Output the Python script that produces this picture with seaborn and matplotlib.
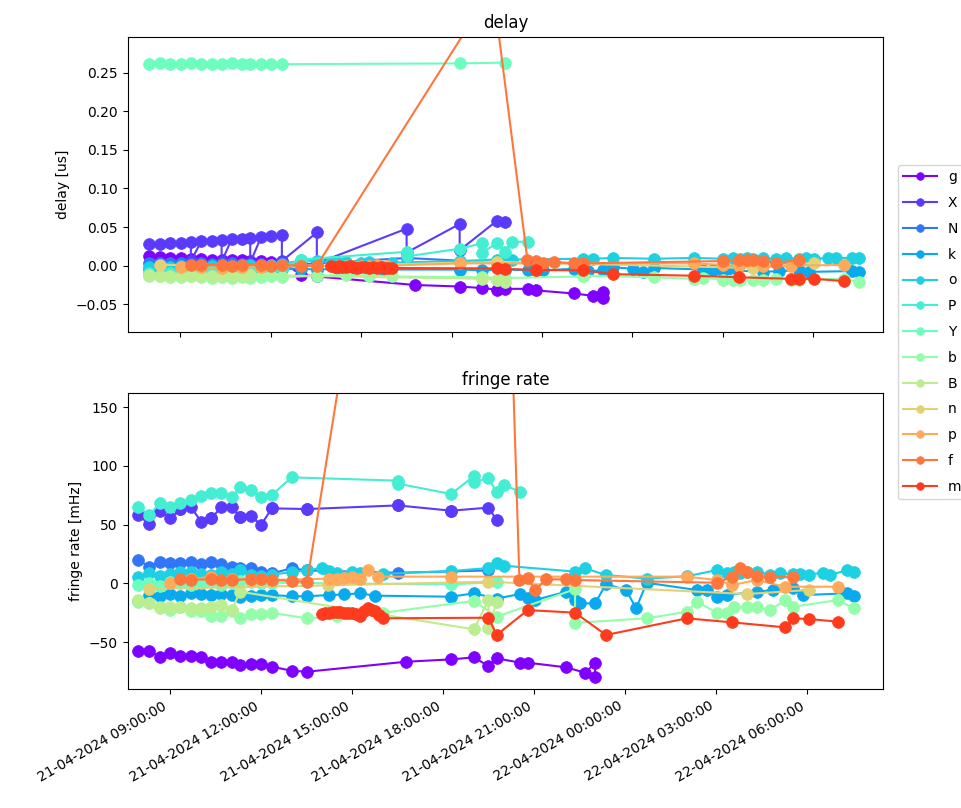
import numpy as np
import pandas as pd
import matplotlib
matplotlib.use("Agg")
import matplotlib.pyplot as plt
import matplotlib.dates as mdates
import seaborn as sns

# station order as in the legend
stations = ["g", "X", "N", "k", "o", "P", "Y", "b", "B", "n", "p", "f", "m"]

# scan times in hours since 21-04-2024 00:00
hours = {
    "g": [7.97, 8.33, 8.67, 9.02, 9.35, 9.70, 10.04, 10.37, 10.70, 11.05, 11.32, 11.68, 12.01, 12.37,
          13.02, 13.53, 16.79, 18.27, 19.02, 19.50, 19.77, 20.54, 20.79, 22.06, 22.69, 23.01, 23.01],
    "X": [7.97, 8.33, 8.67, 9.02, 9.35, 9.35, 9.70, 10.04, 10.37, 10.37, 10.70, 11.05, 11.32, 11.32,
          11.68, 12.01, 12.37, 12.37, 13.53, 13.53, 16.51, 16.51, 18.27, 18.27, 19.50, 19.77],
    "N": [7.97, 8.33, 8.67, 9.02, 9.35, 9.70, 10.04, 10.37, 10.70, 11.05, 11.32, 11.68, 12.01, 12.37,
          13.02, 13.53, 16.51, 19.50],
    "k": [7.97, 8.33, 8.67, 9.02, 9.35, 9.70, 10.04, 10.37, 10.70, 11.05, 11.32, 11.68, 12.01, 12.37,
          13.02, 13.53, 14.25, 14.73, 15.27, 15.77, 18.27, 19.02, 19.77, 20.54, 20.79, 21.04, 22.06,
          22.35, 22.52, 23.01, 23.37, 24.03, 24.36, 24.71, 26.36, 26.69, 27.02, 27.35, 28.33, 28.88,
          29.54, 29.87, 31.30, 31.52],
    "o": [7.97, 8.33, 8.67, 9.02, 9.35, 9.70, 10.04, 10.37, 10.70, 11.05, 11.32, 11.68, 12.01, 12.37,
          13.02, 13.53, 14.01, 14.25, 14.51, 15.00, 15.27, 16.04, 18.27, 19.50, 19.77, 20.01, 22.35,
          22.69, 23.37, 24.71, 26.03, 27.02, 27.35, 27.57, 27.79, 28.00, 28.33, 28.77, 29.10, 29.54,
          29.76, 30.04, 30.50, 30.75, 31.30, 31.52],
    "P": [7.97, 8.33, 8.67, 9.02, 9.35, 9.70, 10.04, 10.37, 10.70, 11.05, 11.32, 11.68, 12.01, 12.37,
          13.02, 16.51, 16.51, 18.27, 19.02, 19.02, 19.50, 19.77, 20.01, 20.54],
    "Y": [7.97, 8.33, 8.67, 9.02, 9.35, 9.70, 10.04, 10.37, 10.70, 11.05, 11.32, 11.68, 12.01, 12.37,
          18.27, 19.77],
    "b": [7.97, 8.33, 8.67, 9.02, 9.35, 9.70, 10.04, 10.37, 10.70, 11.05, 11.32, 11.68, 12.01, 12.37,
          13.53, 14.51, 15.27, 16.04, 19.02, 19.77, 22.35, 22.35, 24.71, 26.03, 26.36, 27.02, 27.35,
          27.57, 28.00, 28.33, 28.77, 29.27, 29.54, 31.02, 31.52],
    "B": [7.97, 8.33, 8.67, 9.02, 9.35, 9.70, 10.04, 10.37, 10.70, 11.05, 11.32, 19.02, 19.50, 19.50,
          19.77],
    "n": [8.33, 14.23, 19.50, 28.00, 30.04],
    "p": [9.02, 9.70, 10.37, 11.05, 11.68, 14.25, 14.51, 14.73, 15.00, 15.27, 15.52, 15.87, 18.27,
          26.03, 27.02, 27.53, 28.33, 29.27, 31.02],
    "f": [9.35, 9.70, 10.37, 10.70, 11.05, 11.68, 12.01, 12.37, 13.02, 13.53, 19.37, 20.52, 20.79,
          21.04, 21.39, 22.06, 22.35, 27.02, 27.53, 27.79, 28.00, 28.33, 28.77, 29.54],
    "m": [14.01, 14.13, 14.25, 14.38, 14.51, 14.62, 14.73, 14.87, 15.00, 15.13, 15.27, 15.40, 15.53,
          15.65, 15.77, 15.90, 16.04, 19.50, 19.77, 20.79, 22.35, 23.37, 26.03, 27.53, 29.27, 29.54,
          30.04, 31.02],
}

# delay [us]
delay = {
    "g": [0.012, 0.011, 0.010, 0.010, 0.009, 0.009, 0.008, 0.008, 0.007, 0.007, 0.006, 0.006, 0.005,
          0.005, -0.012, -0.014, -0.025, -0.027, -0.029, -0.031, -0.030, -0.030, -0.032, -0.036,
          -0.039, -0.034, -0.042],
    "X": [0.028, 0.028, 0.029, 0.030, 0.031, 0.006, 0.032, 0.032, 0.033, 0.005, 0.034, 0.035, 0.036,
          0.004, 0.037, 0.038, 0.040, 0.006, 0.043, 0.003, 0.048, 0.017, 0.054, 0.020, 0.058, 0.056],
    "N": [0.004, 0.003, 0.004, 0.003, 0.002, 0.003, 0.002, 0.002, 0.003, 0.002, 0.001, 0.002, 0.001,
          0.001, 0.002, 0.003, 0.010, 0.004],
    "k": [-0.004, -0.003, -0.004, -0.005, -0.004, -0.003, -0.004, -0.004, -0.003, -0.004, -0.005,
          -0.004, -0.003, -0.004, -0.004, -0.005, -0.004, -0.005, -0.004, -0.005, -0.005, -0.006,
          -0.005, -0.006, -0.005, -0.006, -0.004, -0.006, -0.007, -0.006, -0.002, -0.004, -0.008,
          -0.003, -0.005, -0.006, -0.007, -0.006, -0.008, -0.007, -0.006, -0.008, -0.007, -0.008],
    "o": [-0.002, -0.001, -0.002, 0.000, -0.001, -0.002, -0.001, 0.000, -0.001, 0.000, 0.001, 0.000,
          0.001, 0.002, 0.007, 0.006, 0.005, 0.004, 0.005, 0.004, 0.005, 0.004, 0.006, 0.008, 0.007,
          0.008, 0.009, 0.009, 0.010, 0.009, 0.010, 0.009, 0.010, 0.009, 0.010, 0.009, 0.010, 0.009,
          0.010, 0.009, 0.010, 0.009, 0.010, 0.010, 0.010, 0.010],
    "P": [-0.010, -0.012, -0.009, -0.010, -0.008, -0.009, -0.008, -0.007, -0.006, -0.007, -0.005,
          -0.004, -0.004, -0.003, 0.008, 0.018, 0.012, 0.022, 0.029, 0.017, 0.029, 0.018, 0.031, 0.031],
    "Y": [0.261, 0.262, 0.261, 0.261, 0.262, 0.261, 0.261, 0.261, 0.262, 0.261, 0.261, 0.261, 0.261,
          0.261, 0.262, 0.263],
    "b": [-0.013, -0.014, -0.015, -0.015, -0.014, -0.015, -0.016, -0.015, -0.016, -0.015, -0.016,
          -0.015, -0.014, -0.015, -0.013, -0.012, -0.013, -0.014, -0.015, -0.016, -0.014, -0.013,
          -0.015, -0.017, -0.016, -0.018, -0.018, -0.018, -0.018, -0.018, -0.017, -0.018, -0.018,
          -0.017, -0.021],
    "B": [-0.012, -0.013, -0.014, -0.013, -0.013, -0.014, -0.014, -0.013, -0.014, -0.013, -0.012,
          -0.017, -0.018, -0.019, -0.021],
    "n": [0.001, 0.000, 0.005, -0.003, 0.004],
    "p": [-0.002, -0.002, -0.003, -0.002, -0.002, 0.000, -0.001, 0.000, -0.001, 0.000, 0.001, 0.000,
          0.003, 0.003, 0.001, 0.000, -0.001, 0.000, 0.001],
    "f": [0.001, 0.001, 0.001, 0.000, 0.001, 0.001, 0.000, 0.001, 0.000, 0.000, 0.360, 0.007, 0.006,
          0.004, 0.005, 0.003, 0.003, 0.006, 0.007, 0.008, 0.007, 0.006, 0.004, 0.007],
    "m": [-0.001, -0.002, -0.001, -0.002, -0.002, -0.001, -0.002, -0.003, -0.002, -0.002, -0.003,
          -0.002, -0.003, -0.002, -0.003, -0.003, -0.003, -0.0035, -0.004, -0.0056, -0.006, -0.011,
          -0.013, -0.015, -0.017, -0.017, -0.017, -0.020],
}

# fringe rate [mHz]
rate = {
    "g": [-57.5, -57.5, -62.5, -59.7, -61.7, -61.7, -62.5, -66.8, -66.8, -66.8, -69.9, -68.8, -68.8,
          -71.0, -74.5, -75.3, -66.8, -64.8, -63.1, -70.5, -63.9, -67.6, -67.6, -71.6, -76.2, -67.6,
          -80.1],
    "X": [58.2, 50.5, 61.9, 55.4, 63.0, 63.0, 65.3, 52.5, 55.4, 55.4, 64.8, 64.8, 56.8, 56.8, 57.4,
          49.7, 63.9, 63.9, 63.3, 63.3, 66.4, 66.4, 61.9, 61.9, 64.5, 54.0],
    "N": [19.9, 14.2, 18.4, 17.0, 17.6, 18.4, 16.5, 18.4, 16.5, 14.2, 12.8, 12.8, 10.0, 8.5, 12.8,
          11.0, 9.0, 11.0],
    "k": [-14.8, -10.0, -10.5, -9.0, -11.0, -8.5, -9.5, -10.0, -9.0, -10.0, -12.0, -10.5, -10.0,
          -10.0, -11.0, -11.0, -10.0, -9.5, -8.5, -10.5, -11.4, -8.5, -13.0, -9.1, -12.8, -14.2,
          -7.1, -14.2, -17.1, -17.1, -0.6, -5.7, -21.3, 0.5, -5.7, -5.7, -11.4, -10.0, -7.1, -5.7,
          -4.3, -10.0, -8.5, -10.8],
    "o": [5.0, 9.0, 6.0, 8.0, 10.0, 9.5, 8.0, 7.0, 9.5, 8.0, 11.0, 7.5, 6.0, 7.5, 9.5, 11.0, 13.0,
          10.5, 9.0, 10.0, 8.5, 8.0, 10.5, 13.0, 17.6, 15.0, 10.0, 12.7, 7.1, 4.0, 6.0, 11.3, 8.5,
          10.0, 9.0, 10.0, 10.0, 7.5, 8.5, 8.0, 8.0, 7.5, 9.0, 7.1, 11.3, 10.0],
    "P": [65.3, 57.9, 68.2, 64.8, 68.2, 71.0, 74.4, 77.3, 77.3, 73.3, 81.8, 79.5, 73.8, 75.3, 90.3,
          87.5, 85.0, 76.1, 91.4, 86.6, 89.5, 77.8, 83.8, 78.1],
    "Y": [-1.5, 0.5, -2.0, 1.0, 0.0, -1.0, 0.5, 1.0, -1.0, 0.0, 2.0, 1.5, 0.0, 0.5, -0.9, 1.0],
    "b": [-16.0, -17.0, -20.0, -22.7, -20.5, -23.5, -23.5, -27.8, -27.8, -23.5, -29.8, -26.4, -26.4,
          -25.2, -29.8, -28.0, -27.0, -25.0, -15.0, -28.4, -5.0, -33.7, -29.8, -24.2, -15.6, -25.0,
          -25.5, -19.9, -20.5, -19.9, -22.8, -14.2, -19.9, -14.2, -21.3],
    "B": [-14.3, -16.5, -21.3, -19.9, -19.9, -21.3, -21.3, -19.9, -18.5, -22.8, -7.1, -39.2, -14.2,
          -38.4, -15.6],
    "n": [-4.8, -1.7, 1.4, -9.1, -5.7],
    "p": [0.0, 3.5, 5.7, 4.0, 2.5, 4.0, 3.5, 4.5, 5.0, 4.0, 11.3, 5.7, 5.7, 5.7, 2.8, -1.4, 2.8,
          -2.9, -2.9],
    "f": [4.0, 3.0, 3.5, 2.5, 2.5, 4.0, 3.5, 3.0, 2.0, 1.4, 945.0, 2.8, 4.3, -5.7, 3.4, 3.4, 2.8,
          0.5, 5.6, 12.7, 9.9, 6.0, 5.6, 5.1],
    "m": [-26.2, -25.5, -25.0, -24.5, -24.2, -24.8, -25.0, -25.5, -25.0, -26.5, -27.9, -24.0, -21.3,
          -22.5, -23.6, -27.0, -29.8, -29.3, -44.0, -22.8, -25.0, -44.0, -29.8, -33.3, -37.5, -29.8,
          -30.4, -32.7],
}

base = pd.Timestamp("2024-04-21")
colors = plt.cm.rainbow(np.arange(len(stations)) / len(stations))

fig = plt.figure(figsize=(9.61, 8.08), dpi=100)
ax1 = fig.add_axes([0.1327, 0.5891, 0.7865, 0.3655])
ax2 = fig.add_axes([0.1327, 0.1469, 0.7865, 0.3663])

for st, c in zip(stations, colors):
    t = base + pd.to_timedelta(hours[st], unit="h")
    sns.lineplot(x=t, y=delay[st], ax=ax1, color=c, marker="o", markersize=8.5,
                 markeredgecolor=c, markeredgewidth=0.5, estimator=None, sort=False,
                 label=st)
    sns.lineplot(x=t, y=rate[st], ax=ax2, color=c, marker="o", markersize=8.5,
                 markeredgecolor=c, markeredgewidth=0.5, estimator=None, sort=False,
                 legend=False)

ax1.set_xlim(base + pd.Timedelta(hours=7.248), base + pd.Timedelta(hours=32.33))
ax2.set_xlim(base + pd.Timedelta(hours=7.617), base + pd.Timedelta(hours=32.50))
ax1.set_ylim(-0.0859, 0.2966)
ax2.set_ylim(-90.3, 161.9)

for ax in (ax1, ax2):
    ax.xaxis.set_major_locator(mdates.HourLocator(byhour=range(0, 24, 3)))
    ax.xaxis.set_major_formatter(mdates.DateFormatter("%d-%m-%Y %H:%M:%S"))
    ax.set_xlabel("")

ax1.tick_params(labelbottom=False)
plt.setp(ax2.get_xticklabels(), rotation=30, ha="right")

ax1.set_title("delay")
ax1.set_ylabel("delay [us]")
ax2.set_title("fringe rate")
ax2.set_ylabel("fringe rate [mHz]")

ax1.legend(loc="center left", bbox_to_anchor=(1.01, 0.0), labelspacing=0.85,
           handlelength=2.4, markerscale=0.65)

fig.savefig("out.png", dpi=100)
